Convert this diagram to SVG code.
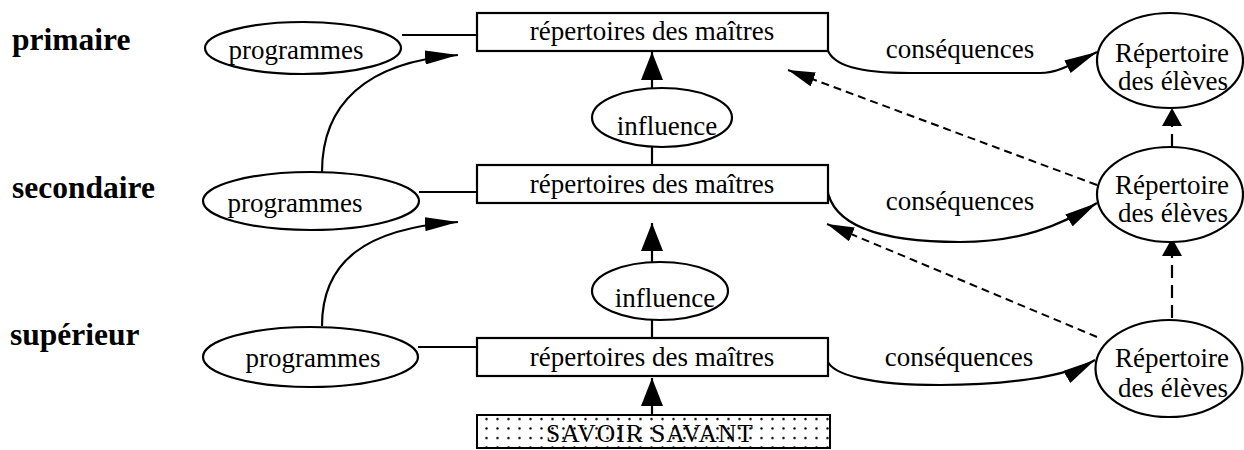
<svg xmlns="http://www.w3.org/2000/svg" width="1244" height="450" viewBox="0 0 1244 450">
<style>
.lbl{font-family:"Liberation Serif","Times New Roman",serif;font-size:31.5px;font-weight:bold;fill:#000}
.t{font-family:"Liberation Serif","Times New Roman",serif;font-size:27px;fill:#000;text-anchor:middle}
.sv{font-family:"Liberation Serif","Times New Roman",serif;font-size:25.5px;fill:#000;text-anchor:middle;letter-spacing:1px}
.node{fill:#fff;stroke:#000;stroke-width:2.2}
.ln{fill:none;stroke:#000;stroke-width:2.2}
.dv{fill:none;stroke:#000;stroke-width:2.2;stroke-dasharray:13 7}
.dd{fill:none;stroke:#000;stroke-width:2;stroke-dasharray:8 5}
</style>
<defs>
<marker id="ahc" markerUnits="userSpaceOnUse" markerWidth="34" markerHeight="14" refX="33" refY="7" orient="auto"><path d="M0,0 L33,7 L0,14 z" fill="#000"/></marker>
<marker id="ahv" markerUnits="userSpaceOnUse" markerWidth="29" markerHeight="22" refX="28" refY="11" orient="auto"><path d="M0,0 L28,11 L0,22 z" fill="#000"/></marker>
<marker id="ahd" markerUnits="userSpaceOnUse" markerWidth="28" markerHeight="15" refX="27" refY="7.5" orient="auto"><path d="M0,0 L27,7.5 L0,15 z" fill="#000"/></marker>
<marker id="ahs" markerUnits="userSpaceOnUse" markerWidth="19" markerHeight="20" refX="18" refY="10" orient="auto"><path d="M0,0 L18,10 L0,20 z" fill="#000"/></marker>
<pattern id="dots" patternUnits="userSpaceOnUse" x="481" y="414" width="11" height="9.5"><circle cx="5.5" cy="5" r="1.2" fill="#000"/></pattern>
</defs>
<rect width="1244" height="450" fill="#fff"/>

<g id="levels">
<text class="lbl" x="12" y="50">primaire</text>
<text class="lbl" x="12" y="198">secondaire</text>
<text class="lbl" x="10" y="345">supérieur</text>
</g>

<g id="connectors">
<line class="ln" x1="402" y1="35" x2="477" y2="35"/>
<line class="ln" x1="419" y1="192" x2="477" y2="192"/>
<line class="ln" x1="418" y1="347" x2="477" y2="347"/>
<path class="ln" d="M322,172 C322,105 365,62 458,55" marker-end="url(#ahc)"/>
<path class="ln" d="M322,326 C322,262 365,228 458,222" marker-end="url(#ahc)"/>
<line class="ln" x1="652" y1="88" x2="652" y2="52" marker-end="url(#ahv)"/>
<line class="ln" x1="652" y1="147" x2="652" y2="165"/>
<line class="ln" x1="652" y1="262" x2="652" y2="223" marker-end="url(#ahv)"/>
<line class="ln" x1="652" y1="320" x2="652" y2="338"/>
<line class="ln" x1="652" y1="415" x2="652" y2="378" marker-end="url(#ahv)"/>
<path class="ln" d="M827,48 C832,66 860,73 910,73 L1040,73 C1055,73 1065,68 1097,52" marker-end="url(#ahc)"/>
<path class="ln" d="M827,188 C832,225 880,242 960,242 C1020,242 1060,226 1097,203" marker-end="url(#ahc)"/>
<path class="ln" d="M827,360 C832,375 870,385 940,385 C1000,385 1065,378 1095,360" marker-end="url(#ahc)"/>
<line class="dv" x1="1172" y1="147" x2="1172" y2="108" marker-end="url(#ahs)"/>
<line class="dv" x1="1172" y1="318" x2="1172" y2="238" marker-end="url(#ahs)"/>
<line class="dd" x1="1097" y1="185" x2="788" y2="70" marker-end="url(#ahd)"/>
<line class="dd" x1="1097" y1="337" x2="827" y2="224" marker-end="url(#ahd)"/>
</g>

<g id="prog1"><ellipse class="node" cx="303" cy="48" rx="98" ry="26"/><text class="t" x="296" y="59">programmes</text></g>
<g id="prog2"><ellipse class="node" cx="311" cy="201" rx="108" ry="29"/><text class="t" x="295" y="212">programmes</text></g>
<g id="prog3"><ellipse class="node" cx="310.5" cy="357" rx="107.5" ry="30"/><text class="t" x="313" y="367">programmes</text></g>

<g id="rep1"><rect class="node" x="477" y="13" width="351" height="38"/><text class="t" x="652" y="40">répertoires des maîtres</text></g>
<g id="rep2"><rect class="node" x="477" y="165" width="351" height="38"/><text class="t" x="652" y="193">répertoires des maîtres</text></g>
<g id="rep3"><rect class="node" x="477" y="338" width="351" height="38"/><text class="t" x="652" y="366">répertoires des maîtres</text></g>

<g id="infl1"><ellipse class="node" cx="662" cy="117.5" rx="70" ry="29.5"/><text class="t" x="667" y="135">influence</text></g>
<g id="infl2"><ellipse class="node" cx="660" cy="291" rx="68" ry="29"/><text class="t" x="665" y="307">influence</text></g>

<g id="savoir"><rect x="477" y="415" width="353" height="33" fill="url(#dots)" stroke="#000" stroke-width="2"/><text class="sv" x="650" y="442">SAVOIR SAVANT</text></g>

<g id="labels">
<text class="t" x="960" y="58">conséquences</text>
<text class="t" x="960" y="210">conséquences</text>
<text class="t" x="959" y="366">conséquences</text>
</g>

<g id="elev1"><ellipse class="node" cx="1170" cy="60.5" rx="73" ry="47.5"/><text class="t" x="1172" y="62">Répertoire</text><text class="t" x="1173" y="90">des élèves</text></g>
<g id="elev2"><ellipse class="node" cx="1170" cy="194.5" rx="73" ry="47.5"/><text class="t" x="1172" y="194">Répertoire</text><text class="t" x="1173" y="222">des élèves</text></g>
<g id="elev3"><ellipse class="node" cx="1169" cy="368.5" rx="73.5" ry="48.5"/><text class="t" x="1172" y="367">Répertoire</text><text class="t" x="1173" y="397">des élèves</text></g>
</svg>
